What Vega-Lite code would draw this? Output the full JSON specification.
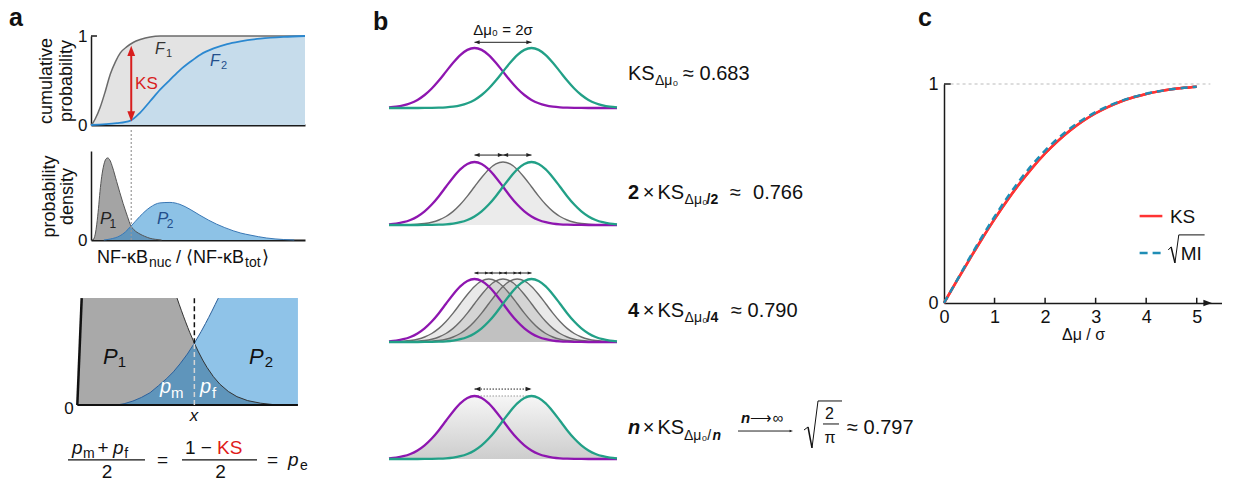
{
"$schema": "https://vega.github.io/schema/vega-lite/v6.json",
"background": "white",
"padding": {"left": 9, "top": 5, "right": 0, "bottom": 0},
"autosize": {"type": "pad"},
"config": {
  "font": "Liberation Sans",
  "view": {"stroke": null},
  "text": {"baseline": "alphabetic", "align": "left", "color": "#111"},
  "axis": {"grid": false, "labelFont": "Liberation Sans", "titleFont": "Liberation Sans", "labelColor": "#111", "titleColor": "#111", "domainColor": "#1a1a1a", "tickColor": "#1a1a1a"}
},
"datasets": {
  "F1": [{"x":0,"v":0},{"x":0.05,"v":0.01},{"x":0.2,"v":0.07},{"x":0.43,"v":0.2},{"x":0.67,"v":0.38},{"x":0.9,"v":0.57},{"x":1.14,"v":0.71},{"x":1.37,"v":0.81},{"x":1.68,"v":0.88},{"x":1.99,"v":0.93},{"x":2.3,"v":0.96},{"x":2.77,"v":0.99},{"x":3.24,"v":1},{"x":10,"v":1}],
  "F2": [{"x":0,"v":0},{"x":1.21,"v":0.02},{"x":1.84,"v":0.05},{"x":2.3,"v":0.14},{"x":2.77,"v":0.27},{"x":3.24,"v":0.4},{"x":3.7,"v":0.51},{"x":4.17,"v":0.62},{"x":4.64,"v":0.71},{"x":5.11,"v":0.79},{"x":5.73,"v":0.86},{"x":6.36,"v":0.91},{"x":6.98,"v":0.94},{"x":7.91,"v":0.97},{"x":9,"v":0.99},{"x":10,"v":1}],
  "P1": [{"x":0.1,"y":0},{"x":0.2,"y":6},{"x":0.27,"y":16},{"x":0.35,"y":32},{"x":0.42,"y":49},{"x":0.5,"y":64},{"x":0.6,"y":76},{"x":0.7,"y":82},{"x":0.78,"y":83},{"x":0.9,"y":80},{"x":1.0,"y":74},{"x":1.2,"y":59},{"x":1.5,"y":37},{"x":1.7,"y":24},{"x":1.87,"y":14},{"x":2.0,"y":10.5},{"x":2.29,"y":6},{"x":2.5,"y":3.8},{"x":2.76,"y":1.7},{"x":3.0,"y":0.7},{"x":3.3,"y":0}],
  "P2": [{"x":0.6,"y":0},{"x":0.9,"y":1},{"x":1.36,"y":4.3},{"x":1.6,"y":8},{"x":1.87,"y":14},{"x":2.29,"y":24},{"x":2.76,"y":33},{"x":3.22,"y":37.5},{"x":3.69,"y":38},{"x":4.16,"y":36},{"x":4.63,"y":31},{"x":5.09,"y":25},{"x":5.5,"y":20},{"x":5.87,"y":16},{"x":6.25,"y":12.5},{"x":6.65,"y":9.3},{"x":7.0,"y":7},{"x":7.43,"y":5},{"x":8.21,"y":2},{"x":8.99,"y":0.5},{"x":9.5,"y":0}],
  "OV": [{"x":0.6,"y":0},{"x":0.9,"y":1},{"x":1.36,"y":4.3},{"x":1.6,"y":8},{"x":1.87,"y":14},{"x":2.0,"y":10.5},{"x":2.29,"y":6},{"x":2.5,"y":3.8},{"x":2.76,"y":1.7},{"x":3.0,"y":0.7},{"x":3.3,"y":0}],
  "Z1": [{"x":-0.64,"y":0},{"x":-0.435,"y":10},{"x":4.02,"y":10},{"x":4.12,"y":9.42},{"x":4.22,"y":8.86},{"x":4.32,"y":8.31},{"x":4.42,"y":7.78},{"x":4.52,"y":7.26},{"x":4.62,"y":6.76},{"x":4.83,"y":5.78},{"x":5.02,"y":4.97},{"x":5.22,"y":4.2},{"x":5.42,"y":3.52},{"x":5.72,"y":2.65},{"x":6.02,"y":1.95},{"x":6.42,"y":1.26},{"x":6.82,"y":0.78},{"x":7.32,"y":0.41},{"x":7.92,"y":0.17},{"x":8.69,"y":0}],
  "Z2": [{"x":1.2,"y":0},{"x":1.55,"y":0.12},{"x":1.96,"y":0.37},{"x":2.35,"y":0.7},{"x":2.76,"y":1.15},{"x":3.15,"y":1.8},{"x":3.54,"y":2.48},{"x":3.85,"y":3.1},{"x":4.16,"y":3.85},{"x":4.5,"y":4.76},{"x":4.83,"y":5.78},{"x":5.15,"y":6.88},{"x":5.35,"y":7.62},{"x":5.5,"y":8.19},{"x":5.65,"y":8.78},{"x":5.8,"y":9.39},{"x":5.95,"y":10},{"x":9.67,"y":10}],
  "Z3": [{"x":1.2,"y":0},{"x":1.55,"y":0.12},{"x":1.96,"y":0.37},{"x":2.35,"y":0.7},{"x":2.76,"y":1.15},{"x":3.15,"y":1.8},{"x":3.54,"y":2.48},{"x":3.85,"y":3.1},{"x":4.16,"y":3.85},{"x":4.5,"y":4.76},{"x":4.83,"y":5.78},{"x":5.02,"y":4.97},{"x":5.22,"y":4.2},{"x":5.42,"y":3.52},{"x":5.72,"y":2.65},{"x":6.02,"y":1.95},{"x":6.42,"y":1.26},{"x":6.82,"y":0.78},{"x":7.32,"y":0.41},{"x":7.92,"y":0.17},{"x":8.69,"y":0}],
  "G": [
    {"x":-4,"p":0.0111,"t":0,"c":0.0003,"l":0.0022,"r":0,"e":0.0111},
    {"x":-3.75,"p":0.0228,"t":0,"c":0.0009,"l":0.0051,"r":0.0001,"e":0.0228},
    {"x":-3.5,"p":0.0439,"t":0,"c":0.0022,"l":0.0111,"r":0.0003,"e":0.0439},
    {"x":-3.25,"p":0.0796,"t":0,"c":0.0051,"l":0.0228,"r":0.0009,"e":0.0796},
    {"x":-3,"p":0.1353,"t":0.0003,"c":0.0111,"l":0.0439,"r":0.0022,"e":0.1353},
    {"x":-2.75,"p":0.2163,"t":0.0009,"c":0.0228,"l":0.0796,"r":0.0051,"e":0.2163},
    {"x":-2.5,"p":0.3247,"t":0.0022,"c":0.0439,"l":0.1353,"r":0.0111,"e":0.3247},
    {"x":-2.25,"p":0.4578,"t":0.0051,"c":0.0796,"l":0.2163,"r":0.0228,"e":0.4578},
    {"x":-2,"p":0.6065,"t":0.0111,"c":0.1353,"l":0.3247,"r":0.0439,"e":0.6065},
    {"x":-1.75,"p":0.7548,"t":0.0228,"c":0.2163,"l":0.4578,"r":0.0796,"e":0.7548},
    {"x":-1.5,"p":0.8825,"t":0.0439,"c":0.3247,"l":0.6065,"r":0.1353,"e":0.8825},
    {"x":-1.25,"p":0.9692,"t":0.0796,"c":0.4578,"l":0.7548,"r":0.2163,"e":0.9692},
    {"x":-1,"p":1,"t":0.1353,"c":0.6065,"l":0.8825,"r":0.3247,"e":1},
    {"x":-0.75,"p":0.9692,"t":0.2163,"c":0.7548,"l":0.9692,"r":0.4578,"e":1},
    {"x":-0.5,"p":0.8825,"t":0.3247,"c":0.8825,"l":1,"r":0.6065,"e":1},
    {"x":-0.25,"p":0.7548,"t":0.4578,"c":0.9692,"l":0.9692,"r":0.7548,"e":1},
    {"x":0,"p":0.6065,"t":0.6065,"c":1,"l":0.8825,"r":0.8825,"e":1},
    {"x":0.25,"p":0.4578,"t":0.7548,"c":0.9692,"l":0.7548,"r":0.9692,"e":1},
    {"x":0.5,"p":0.3247,"t":0.8825,"c":0.8825,"l":0.6065,"r":1,"e":1},
    {"x":0.75,"p":0.2163,"t":0.9692,"c":0.7548,"l":0.4578,"r":0.9692,"e":1},
    {"x":1,"p":0.1353,"t":1,"c":0.6065,"l":0.3247,"r":0.8825,"e":1},
    {"x":1.25,"p":0.0796,"t":0.9692,"c":0.4578,"l":0.2163,"r":0.7548,"e":0.9692},
    {"x":1.5,"p":0.0439,"t":0.8825,"c":0.3247,"l":0.1353,"r":0.6065,"e":0.8825},
    {"x":1.75,"p":0.0228,"t":0.7548,"c":0.2163,"l":0.0796,"r":0.4578,"e":0.7548},
    {"x":2,"p":0.0111,"t":0.6065,"c":0.1353,"l":0.0439,"r":0.3247,"e":0.6065},
    {"x":2.25,"p":0.0051,"t":0.4578,"c":0.0796,"l":0.0228,"r":0.2163,"e":0.4578},
    {"x":2.5,"p":0.0022,"t":0.3247,"c":0.0439,"l":0.0111,"r":0.1353,"e":0.3247},
    {"x":2.75,"p":0.0009,"t":0.2163,"c":0.0228,"l":0.0051,"r":0.0796,"e":0.2163},
    {"x":3,"p":0.0003,"t":0.1353,"c":0.0111,"l":0.0022,"r":0.0439,"e":0.1353},
    {"x":3.25,"p":0.0001,"t":0.0796,"c":0.0051,"l":0.0009,"r":0.0228,"e":0.0796},
    {"x":3.5,"p":0,"t":0.0439,"c":0.0022,"l":0.0003,"r":0.0111,"e":0.0439},
    {"x":3.75,"p":0,"t":0.0228,"c":0.0009,"l":0.0001,"r":0.0051,"e":0.0228},
    {"x":4,"p":0,"t":0.0111,"c":0.0003,"l":0,"r":0.0022,"e":0.0111}
  ],
  "AR": [{"row":1,"a":-1,"b":1},{"row":2,"a":-1,"b":0},{"row":2,"a":0,"b":1},{"row":3,"a":-1,"b":-0.5},{"row":3,"a":-0.5,"b":0},{"row":3,"a":0,"b":0.5},{"row":3,"a":0.5,"b":1},{"row":4,"a":-1,"b":1}],
  "CT": [{"t":1},{"t":2},{"t":3},{"t":4},{"t":5}],
  "CC": [{"d":0,"ks":0,"mi":0},{"d":0.25,"ks":0.0995,"mi":0.1014},{"d":0.5,"ks":0.1974,"mi":0.2034},{"d":0.75,"ks":0.2923,"mi":0.3013},{"d":1,"ks":0.3829,"mi":0.3939},{"d":1.25,"ks":0.468,"mi":0.481},{"d":1.5,"ks":0.5467,"mi":0.5607},{"d":1.75,"ks":0.6184,"mi":0.6324},{"d":2,"ks":0.6827,"mi":0.6957},{"d":2.25,"ks":0.7394,"mi":0.7504},{"d":2.5,"ks":0.7887,"mi":0.7977},{"d":2.75,"ks":0.8309,"mi":0.8379},{"d":3,"ks":0.8664,"mi":0.8714},{"d":3.25,"ks":0.8958,"mi":0.8993},{"d":3.5,"ks":0.9199,"mi":0.9222},{"d":3.75,"ks":0.9392,"mi":0.9407},{"d":4,"ks":0.9545,"mi":0.9555},{"d":4.25,"ks":0.9664,"mi":0.9671},{"d":4.5,"ks":0.9756,"mi":0.976},{"d":4.75,"ks":0.9824,"mi":0.9826},{"d":5,"ks":0.9876,"mi":0.9877}]
},
"spacing": 4,
"hconcat": [
 {"spacing": 64, "hconcat": [
  {"bounds": "flush", "spacing": 26, "vconcat": [
    {"width": 214, "height": 89, "layer": [
      {"data": {"name": "F1"}, "mark": {"type": "area", "color": "#e3e3e3", "interpolate": "monotone"},
       "encoding": {
        "x": {"field": "x", "type": "quantitative", "scale": {"domain": [0, 10]}, "axis": {"labels": false, "ticks": false, "title": null, "domainWidth": 2}},
        "y": {"field": "v", "type": "quantitative", "scale": {"domain": [0, 1]}, "axis": {"values": [0, 1], "format": "d", "labelFontSize": 17, "ticks": false, "labelPadding": 4, "domainWidth": 1.5, "title": null}}}},
      {"data": {"name": "F2"}, "mark": {"type": "area", "color": "#c6dceb", "interpolate": "monotone"},
       "encoding": {"x": {"field": "x", "type": "quantitative"}, "y": {"field": "v", "type": "quantitative"}}},
      {"data": {"name": "F1"}, "mark": {"type": "line", "color": "#6b6b6b", "strokeWidth": 1.5, "interpolate": "monotone"},
       "encoding": {"x": {"field": "x", "type": "quantitative"}, "y": {"field": "v", "type": "quantitative"}}},
      {"data": {"name": "F2"}, "mark": {"type": "line", "color": "#2b88d0", "strokeWidth": 1.8, "interpolate": "monotone"},
       "encoding": {"x": {"field": "x", "type": "quantitative"}, "y": {"field": "v", "type": "quantitative"}}},
      {"data": {"values": [{}]}, "mark": {"type": "rule", "color": "#1a1a1a", "strokeWidth": 1.5},
       "encoding": {"x": {"datum": 0}, "x2": {"datum": 0.28}, "y": {"datum": 1}}},
      {"data": {"values": [{}]}, "mark": {"type": "rule", "color": "#d81e1e", "strokeWidth": 2},
       "encoding": {"x": {"datum": 1.88}, "y": {"datum": 0.1}, "y2": {"datum": 0.83}}},
      {"data": {"values": [{}]}, "mark": {"type": "point", "shape": "M0,0L0.65,1.7L-0.65,1.7Z", "size": 144, "filled": true, "opacity": 1, "color": "#d81e1e"},
       "encoding": {"x": {"datum": 1.88}, "y": {"datum": 0.89}}},
      {"data": {"values": [{}]}, "mark": {"type": "point", "shape": "M0,0L0.65,-1.7L-0.65,-1.7Z", "size": 144, "filled": true, "opacity": 1, "color": "#d81e1e"},
       "encoding": {"x": {"datum": 1.88}, "y": {"datum": 0.04}}},
      {"data": {"values": [{}]}, "mark": {"type": "text", "text": "a", "fontSize": 25, "fontWeight": "bold"},
       "encoding": {"x": {"datum": -3.83}, "y": {"datum": 1.112}}},
      {"data": {"values": [{}]}, "mark": {"type": "text", "text": ["cumulative", "probability"], "fontSize": 18, "angle": 270, "align": "center", "baseline": "middle", "lineHeight": 20},
       "encoding": {"x": {"datum": -2.056}, "y": {"datum": 0.494}}},
      {"data": {"values": [{}]}, "mark": {"type": "text", "text": "F", "fontSize": 16, "fontStyle": "italic", "color": "#333"},
       "encoding": {"x": {"datum": 2.99}, "y": {"datum": 0.8}}},
      {"data": {"values": [{}]}, "mark": {"type": "text", "text": "1", "fontSize": 11, "color": "#333"},
       "encoding": {"x": {"datum": 3.5}, "y": {"datum": 0.764}}},
      {"data": {"values": [{}]}, "mark": {"type": "text", "text": "F", "fontSize": 16, "fontStyle": "italic", "color": "#234f8c"},
       "encoding": {"x": {"datum": 5.56}, "y": {"datum": 0.663}}},
      {"data": {"values": [{}]}, "mark": {"type": "text", "text": "2", "fontSize": 11, "color": "#234f8c"},
       "encoding": {"x": {"datum": 6.07}, "y": {"datum": 0.63}}},
      {"data": {"values": [{}]}, "mark": {"type": "text", "text": "KS", "fontSize": 17, "color": "#d81e1e"},
       "encoding": {"x": {"datum": 2.06}, "y": {"datum": 0.404}}}
    ]},
    {"width": 214, "height": 89, "layer": [
      {"data": {"name": "P1"}, "mark": {"type": "area", "color": "#a4a4a4", "interpolate": "monotone"},
       "encoding": {
        "x": {"field": "x", "type": "quantitative", "scale": {"domain": [0, 10]}, "axis": {"labels": false, "ticks": false, "title": null, "domainWidth": 2}},
        "y": {"field": "y", "type": "quantitative", "scale": {"domain": [0, 89]}, "axis": {"values": [0], "labelFontSize": 17, "ticks": false, "labelPadding": 4, "domainWidth": 1.5, "title": null}}}},
      {"data": {"name": "P2"}, "mark": {"type": "area", "color": "#8dc2e6", "interpolate": "monotone"},
       "encoding": {"x": {"field": "x", "type": "quantitative"}, "y": {"field": "y", "type": "quantitative"}}},
      {"data": {"name": "OV"}, "mark": {"type": "area", "color": "#6295bb", "interpolate": "monotone"},
       "encoding": {"x": {"field": "x", "type": "quantitative"}, "y": {"field": "y", "type": "quantitative"}}},
      {"data": {"name": "P1"}, "mark": {"type": "line", "color": "#555", "strokeWidth": 1, "interpolate": "monotone"},
       "encoding": {"x": {"field": "x", "type": "quantitative"}, "y": {"field": "y", "type": "quantitative"}}},
      {"data": {"name": "P2"}, "mark": {"type": "line", "color": "#3a78b5", "strokeWidth": 1, "interpolate": "monotone"},
       "encoding": {"x": {"field": "x", "type": "quantitative"}, "y": {"field": "y", "type": "quantitative"}}},
      {"data": {"values": [{}]}, "mark": {"type": "rule", "color": "#999", "strokeWidth": 1.2, "strokeDash": [2, 2]},
       "encoding": {"x": {"datum": 1.88}, "y": {"datum": 0}, "y2": {"datum": 112}}},
      {"data": {"values": [{}]}, "mark": {"type": "text", "text": ["probability", "density"], "fontSize": 18, "angle": 270, "align": "center", "baseline": "middle", "lineHeight": 18},
       "encoding": {"x": {"datum": -1.916}, "y": {"datum": 44}}},
      {"data": {"values": [{}]}, "mark": {"type": "text", "text": "P", "fontSize": 17, "fontStyle": "italic", "color": "#222"},
       "encoding": {"x": {"datum": 0.42}, "y": {"datum": 16}}},
      {"data": {"values": [{}]}, "mark": {"type": "text", "text": "1", "fontSize": 12, "color": "#222"},
       "encoding": {"x": {"datum": 0.86}, "y": {"datum": 12}}},
      {"data": {"values": [{}]}, "mark": {"type": "text", "text": "P", "fontSize": 17, "fontStyle": "italic", "color": "#234f8c"},
       "encoding": {"x": {"datum": 3.08}, "y": {"datum": 16}}},
      {"data": {"values": [{}]}, "mark": {"type": "text", "text": "2", "fontSize": 12, "color": "#234f8c"},
       "encoding": {"x": {"datum": 3.54}, "y": {"datum": 12}}},
      {"data": {"values": [{}]}, "mark": {"type": "text", "text": "NF-κB", "fontSize": 18},
       "encoding": {"x": {"datum": 0.28}, "y": {"datum": -23}}},
      {"data": {"values": [{}]}, "mark": {"type": "text", "text": "nuc", "fontSize": 14},
       "encoding": {"x": {"datum": 2.71}, "y": {"datum": -27}}},
      {"data": {"values": [{}]}, "mark": {"type": "text", "text": "/", "fontSize": 18},
       "encoding": {"x": {"datum": 3.97}, "y": {"datum": -23}}},
      {"data": {"values": [{}]}, "mark": {"type": "text", "text": "⟨NF-κB", "fontSize": 18},
       "encoding": {"x": {"datum": 4.44}, "y": {"datum": -23}}},
      {"data": {"values": [{}]}, "mark": {"type": "text", "text": "tot", "fontSize": 14},
       "encoding": {"x": {"datum": 7.2}, "y": {"datum": -27}}},
      {"data": {"values": [{}]}, "mark": {"type": "text", "text": "⟩", "fontSize": 18},
       "encoding": {"x": {"datum": 7.99}, "y": {"datum": -23}}}
    ]},
    {"width": 214, "height": 139, "layer": [
      {"data": {"name": "Z1"}, "mark": {"type": "area", "color": "#a9a9a9"},
       "encoding": {"x": {"field": "x", "type": "quantitative", "scale": {"domain": [0, 10]}, "axis": null}, "y": {"field": "y", "type": "quantitative", "scale": {"domain": [0, 12.752]}, "axis": null}}},
      {"data": {"name": "Z2"}, "mark": {"type": "area", "color": "#8fc3e8"},
       "encoding": {"x": {"field": "x", "type": "quantitative", "axis": null}, "y": {"field": "y", "type": "quantitative", "axis": null}}},
      {"data": {"name": "Z3"}, "mark": {"type": "area", "color": "#5f95bb"},
       "encoding": {"x": {"field": "x", "type": "quantitative", "axis": null}, "y": {"field": "y", "type": "quantitative", "axis": null}}},
      {"data": {"name": "Z1"}, "transform": [{"filter": "datum.x >= 4"}], "mark": {"type": "line", "color": "#333", "strokeWidth": 1},
       "encoding": {"x": {"field": "x", "type": "quantitative", "axis": null}, "y": {"field": "y", "type": "quantitative", "axis": null}}},
      {"data": {"name": "Z1"}, "transform": [{"filter": "datum.x < 0"}], "mark": {"type": "line", "color": "#111", "strokeWidth": 2.5},
       "encoding": {"x": {"field": "x", "type": "quantitative", "axis": null}, "y": {"field": "y", "type": "quantitative", "axis": null}}},
      {"data": {"name": "Z2"}, "transform": [{"filter": "datum.x <= 5.96"}], "mark": {"type": "line", "color": "#2d5f99", "strokeWidth": 1},
       "encoding": {"x": {"field": "x", "type": "quantitative", "axis": null}, "y": {"field": "y", "type": "quantitative", "axis": null}}},
      {"data": {"values": [{}]}, "mark": {"type": "rule", "color": "#111", "strokeWidth": 2},
       "encoding": {"x": {"datum": -0.64, "axis": null}, "x2": {"datum": 9.67}, "y": {"datum": 0, "axis": null}}},
      {"data": {"values": [{}]}, "mark": {"type": "rule", "color": "#111", "strokeWidth": 1.5, "strokeDash": [5, 3]},
       "encoding": {"x": {"datum": 4.83, "axis": null}, "y": {"datum": 5.78, "axis": null}, "y2": {"datum": 10}}},
      {"data": {"values": [{}]}, "mark": {"type": "rule", "color": "#d5d5d5", "strokeWidth": 1.5, "strokeDash": [5, 3]},
       "encoding": {"x": {"datum": 4.83, "axis": null}, "y": {"datum": 0, "axis": null}, "y2": {"datum": 5.78}}},
      {"data": {"values": [{}]}, "mark": {"type": "text", "text": "P", "fontSize": 22, "fontStyle": "italic"},
       "encoding": {"x": {"datum": 0.56, "axis": null}, "y": {"datum": 3.85, "axis": null}}},
      {"data": {"values": [{}]}, "mark": {"type": "text", "text": "1", "fontSize": 15},
       "encoding": {"x": {"datum": 1.25, "axis": null}, "y": {"datum": 3.58, "axis": null}}},
      {"data": {"values": [{}]}, "mark": {"type": "text", "text": "P", "fontSize": 22, "fontStyle": "italic"},
       "encoding": {"x": {"datum": 7.38, "axis": null}, "y": {"datum": 3.85, "axis": null}}},
      {"data": {"values": [{}]}, "mark": {"type": "text", "text": "2", "fontSize": 15},
       "encoding": {"x": {"datum": 8.12, "axis": null}, "y": {"datum": 3.58, "axis": null}}},
      {"data": {"values": [{}]}, "mark": {"type": "text", "text": "p", "fontSize": 20, "fontStyle": "italic", "color": "white"},
       "encoding": {"x": {"datum": 3.22, "axis": null}, "y": {"datum": 1.1, "axis": null}}},
      {"data": {"values": [{}]}, "mark": {"type": "text", "text": "m", "fontSize": 15, "color": "white"},
       "encoding": {"x": {"datum": 3.74, "axis": null}, "y": {"datum": 0.64, "axis": null}}},
      {"data": {"values": [{}]}, "mark": {"type": "text", "text": "p", "fontSize": 20, "fontStyle": "italic", "color": "white"},
       "encoding": {"x": {"datum": 5.09, "axis": null}, "y": {"datum": 1.1, "axis": null}}},
      {"data": {"values": [{}]}, "mark": {"type": "text", "text": "f", "fontSize": 15, "color": "white"},
       "encoding": {"x": {"datum": 5.65, "axis": null}, "y": {"datum": 0.64, "axis": null}}},
      {"data": {"values": [{}]}, "mark": {"type": "text", "text": "0", "fontSize": 17, "align": "center"},
       "encoding": {"x": {"datum": -1.03, "axis": null}, "y": {"datum": -0.83, "axis": null}}},
      {"data": {"values": [{}]}, "mark": {"type": "text", "text": "x", "fontSize": 17, "fontStyle": "italic", "align": "center"},
       "encoding": {"x": {"datum": 4.81, "axis": null}, "y": {"datum": -1.47, "axis": null}}},
      {"data": {"values": [{}]}, "mark": {"type": "text", "text": "p", "fontSize": 19, "fontStyle": "italic"},
       "encoding": {"x": {"datum": -0.888, "axis": null}, "y": {"datum": -4.587, "axis": null}}},
      {"data": {"values": [{}]}, "mark": {"type": "text", "text": "m", "fontSize": 14},
       "encoding": {"x": {"datum": -0.374, "axis": null}, "y": {"datum": -4.95, "axis": null}}},
      {"data": {"values": [{}]}, "mark": {"type": "text", "text": "+", "fontSize": 19},
       "encoding": {"x": {"datum": 0.3, "axis": null}, "y": {"datum": -4.587, "axis": null}}},
      {"data": {"values": [{}]}, "mark": {"type": "text", "text": "p", "fontSize": 19, "fontStyle": "italic"},
       "encoding": {"x": {"datum": 1.03, "axis": null}, "y": {"datum": -4.587, "axis": null}}},
      {"data": {"values": [{}]}, "mark": {"type": "text", "text": "f", "fontSize": 14},
       "encoding": {"x": {"datum": 1.55, "axis": null}, "y": {"datum": -4.95, "axis": null}}},
      {"data": {"values": [{}]}, "mark": {"type": "rule", "color": "#111", "strokeWidth": 1.3},
       "encoding": {"x": {"datum": -1.075, "axis": null}, "x2": {"datum": 2.523}, "y": {"datum": -5.138, "axis": null}}},
      {"data": {"values": [{}]}, "mark": {"type": "text", "text": "2", "fontSize": 19, "align": "center"},
       "encoding": {"x": {"datum": 0.748, "axis": null}, "y": {"datum": -6.789, "axis": null}}},
      {"data": {"values": [{}]}, "mark": {"type": "text", "text": "=", "fontSize": 19, "align": "center"},
       "encoding": {"x": {"datum": 3.341, "axis": null}, "y": {"datum": -5.69, "axis": null}}},
      {"data": {"values": [{}]}, "mark": {"type": "text", "text": "1 −", "fontSize": 19},
       "encoding": {"x": {"datum": 4.393, "axis": null}, "y": {"datum": -4.587, "axis": null}}},
      {"data": {"values": [{}]}, "mark": {"type": "text", "text": "KS", "fontSize": 19, "color": "#e01b1b"},
       "encoding": {"x": {"datum": 5.888, "axis": null}, "y": {"datum": -4.587, "axis": null}}},
      {"data": {"values": [{}]}, "mark": {"type": "rule", "color": "#111", "strokeWidth": 1.3},
       "encoding": {"x": {"datum": 4.252, "axis": null}, "x2": {"datum": 7.757}, "y": {"datum": -5.138, "axis": null}}},
      {"data": {"values": [{}]}, "mark": {"type": "text", "text": "2", "fontSize": 19, "align": "center"},
       "encoding": {"x": {"datum": 6.05, "axis": null}, "y": {"datum": -6.789, "axis": null}}},
      {"data": {"values": [{}]}, "mark": {"type": "text", "text": "=", "fontSize": 19, "align": "center"},
       "encoding": {"x": {"datum": 8.481, "axis": null}, "y": {"datum": -5.69, "axis": null}}},
      {"data": {"values": [{}]}, "mark": {"type": "text", "text": "p", "fontSize": 19, "fontStyle": "italic"},
       "encoding": {"x": {"datum": 9.206, "axis": null}, "y": {"datum": -5.69, "axis": null}}},
      {"data": {"values": [{}]}, "mark": {"type": "text", "text": "e", "fontSize": 14},
       "encoding": {"x": {"datum": 9.766, "axis": null}, "y": {"datum": -6.055, "axis": null}}}
    ]}
  ]},
  {"bounds": "flush", "spacing": 54, "vconcat": [
   {"width": 228, "height": 72, "layer": [
      {"data": {"name": "G"}, "mark": {"type": "line", "color": "#8e16b0", "strokeWidth": 2.3, "interpolate": "monotone"},
       "encoding": {"x": {"field": "x", "type": "quantitative", "scale": {"domain": [-4, 4]}, "axis": null}, "y": {"field": "p", "type": "quantitative", "scale": {"domain": [0, 1.142857]}, "axis": null}}},
      {"data": {"name": "G"}, "mark": {"type": "line", "color": "#22a087", "strokeWidth": 2.3, "interpolate": "monotone"},
       "encoding": {"x": {"field": "x", "type": "quantitative", "axis": null}, "y": {"field": "t", "type": "quantitative", "axis": null}}},
      {"data": {"name": "AR"}, "transform": [{"filter": "datum.row == 1"}], "mark": {"type": "rule", "color": "#222", "strokeWidth": 1},
       "encoding": {"x": {"field": "a", "type": "quantitative", "axis": null}, "x2": {"field": "b"}, "y": {"datum": 1.095, "axis": null}}},
      {"data": {"name": "AR"}, "transform": [{"filter": "datum.row == 1"}], "mark": {"type": "point", "shape": "M0,0L1.7,-0.65L1.7,0.65Z", "size": 36, "filled": true, "opacity": 1, "color": "#222"},
       "encoding": {"x": {"field": "a", "type": "quantitative", "axis": null}, "y": {"datum": 1.095, "axis": null}}},
      {"data": {"name": "AR"}, "transform": [{"filter": "datum.row == 1"}], "mark": {"type": "point", "shape": "M0,0L-1.7,-0.65L-1.7,0.65Z", "size": 36, "filled": true, "opacity": 1, "color": "#222"},
       "encoding": {"x": {"field": "b", "type": "quantitative", "axis": null}, "y": {"datum": 1.095, "axis": null}}},
      {"data": {"values": [{}]}, "mark": {"type": "text", "text": "b", "fontSize": 25, "fontWeight": "bold"},
       "encoding": {"x": {"datum": -4.561, "axis": null}, "y": {"datum": 1.302, "axis": null}}},
      {"data": {"values": [{}]}, "mark": {"type": "text", "text": "Δμ₀ = 2σ", "fontSize": 15, "align": "center"},
       "encoding": {"x": {"datum": 0, "axis": null}, "y": {"datum": 1.222, "axis": null}}},
      {"data": {"values": [{}]}, "mark": {"type": "text", "text": "KS", "fontSize": 20},
       "encoding": {"x": {"datum": 4.386, "axis": null}, "y": {"datum": 0.46, "axis": null}}},
      {"data": {"values": [{}]}, "mark": {"type": "text", "text": "Δμ₀", "fontSize": 14},
       "encoding": {"x": {"datum": 5.333, "axis": null}, "y": {"datum": 0.381, "axis": null}}},
      {"data": {"values": [{}]}, "mark": {"type": "text", "text": "≈ 0.683", "fontSize": 20},
       "encoding": {"x": {"datum": 6.316, "axis": null}, "y": {"datum": 0.46, "axis": null}}}
   ]},
   {"width": 228, "height": 63, "layer": [
      {"data": {"name": "G"}, "mark": {"type": "area", "color": "#ebebeb", "interpolate": "monotone"},
       "encoding": {"x": {"field": "x", "type": "quantitative", "scale": {"domain": [-4, 4]}, "axis": null}, "y": {"field": "c", "type": "quantitative", "scale": {"domain": [0, 1]}, "axis": null}}},
      {"data": {"name": "G"}, "mark": {"type": "line", "color": "#6b6b6b", "strokeWidth": 1.4, "interpolate": "monotone"},
       "encoding": {"x": {"field": "x", "type": "quantitative", "axis": null}, "y": {"field": "c", "type": "quantitative", "axis": null}}},
      {"data": {"name": "G"}, "mark": {"type": "line", "color": "#8e16b0", "strokeWidth": 2.3, "interpolate": "monotone"},
       "encoding": {"x": {"field": "x", "type": "quantitative", "axis": null}, "y": {"field": "p", "type": "quantitative", "axis": null}}},
      {"data": {"name": "G"}, "mark": {"type": "line", "color": "#22a087", "strokeWidth": 2.3, "interpolate": "monotone"},
       "encoding": {"x": {"field": "x", "type": "quantitative", "axis": null}, "y": {"field": "t", "type": "quantitative", "axis": null}}},
      {"data": {"name": "AR"}, "transform": [{"filter": "datum.row == 2"}], "mark": {"type": "rule", "color": "#222", "strokeWidth": 1},
       "encoding": {"x": {"field": "a", "type": "quantitative", "axis": null}, "x2": {"field": "b"}, "y": {"datum": 1.11, "axis": null}}},
      {"data": {"name": "AR"}, "transform": [{"filter": "datum.row == 2"}], "mark": {"type": "point", "shape": "M0,0L1.7,-0.65L1.7,0.65Z", "size": 36, "filled": true, "opacity": 1, "color": "#222"},
       "encoding": {"x": {"field": "a", "type": "quantitative", "axis": null}, "y": {"datum": 1.11, "axis": null}}},
      {"data": {"name": "AR"}, "transform": [{"filter": "datum.row == 2"}], "mark": {"type": "point", "shape": "M0,0L-1.7,-0.65L-1.7,0.65Z", "size": 36, "filled": true, "opacity": 1, "color": "#222"},
       "encoding": {"x": {"field": "b", "type": "quantitative", "axis": null}, "y": {"datum": 1.11, "axis": null}}},
      {"data": {"values": [{}]}, "mark": {"type": "text", "text": "2", "fontSize": 20, "fontWeight": "bold"},
       "encoding": {"x": {"datum": 4.386, "axis": null}, "y": {"datum": 0.413, "axis": null}}},
      {"data": {"values": [{}]}, "mark": {"type": "text", "text": "×", "fontSize": 20},
       "encoding": {"x": {"datum": 4.9, "axis": null}, "y": {"datum": 0.413, "axis": null}}},
      {"data": {"values": [{}]}, "mark": {"type": "text", "text": "KS", "fontSize": 20},
       "encoding": {"x": {"datum": 5.42, "axis": null}, "y": {"datum": 0.413, "axis": null}}},
      {"data": {"values": [{}]}, "mark": {"type": "text", "text": "Δμ₀", "fontSize": 14},
       "encoding": {"x": {"datum": 6.37, "axis": null}, "y": {"datum": 0.333, "axis": null}}},
      {"data": {"values": [{}]}, "mark": {"type": "text", "text": "/2", "fontSize": 14, "fontWeight": "bold"},
       "encoding": {"x": {"datum": 7.14, "axis": null}, "y": {"datum": 0.333, "axis": null}}},
      {"data": {"values": [{}]}, "mark": {"type": "text", "text": "≈", "fontSize": 20},
       "encoding": {"x": {"datum": 7.965, "axis": null}, "y": {"datum": 0.413, "axis": null}}},
      {"data": {"values": [{}]}, "mark": {"type": "text", "text": "0.766", "fontSize": 20},
       "encoding": {"x": {"datum": 8.772, "axis": null}, "y": {"datum": 0.413, "axis": null}}}
   ]},
   {"width": 228, "height": 63, "layer": [
      {"data": {"name": "G"}, "mark": {"type": "area", "color": "#000", "opacity": 0.085, "interpolate": "monotone"},
       "encoding": {"x": {"field": "x", "type": "quantitative", "scale": {"domain": [-4, 4]}, "axis": null}, "y": {"field": "l", "type": "quantitative", "scale": {"domain": [0, 1]}, "axis": null}}},
      {"data": {"name": "G"}, "mark": {"type": "area", "color": "#000", "opacity": 0.085, "interpolate": "monotone"},
       "encoding": {"x": {"field": "x", "type": "quantitative", "axis": null}, "y": {"field": "c", "type": "quantitative", "axis": null}}},
      {"data": {"name": "G"}, "mark": {"type": "area", "color": "#000", "opacity": 0.085, "interpolate": "monotone"},
       "encoding": {"x": {"field": "x", "type": "quantitative", "axis": null}, "y": {"field": "r", "type": "quantitative", "axis": null}}},
      {"data": {"name": "G"}, "mark": {"type": "line", "color": "#6b6b6b", "strokeWidth": 1.4, "interpolate": "monotone"},
       "encoding": {"x": {"field": "x", "type": "quantitative", "axis": null}, "y": {"field": "l", "type": "quantitative", "axis": null}}},
      {"data": {"name": "G"}, "mark": {"type": "line", "color": "#6b6b6b", "strokeWidth": 1.4, "interpolate": "monotone"},
       "encoding": {"x": {"field": "x", "type": "quantitative", "axis": null}, "y": {"field": "c", "type": "quantitative", "axis": null}}},
      {"data": {"name": "G"}, "mark": {"type": "line", "color": "#6b6b6b", "strokeWidth": 1.4, "interpolate": "monotone"},
       "encoding": {"x": {"field": "x", "type": "quantitative", "axis": null}, "y": {"field": "r", "type": "quantitative", "axis": null}}},
      {"data": {"name": "G"}, "mark": {"type": "line", "color": "#8e16b0", "strokeWidth": 2.3, "interpolate": "monotone"},
       "encoding": {"x": {"field": "x", "type": "quantitative", "axis": null}, "y": {"field": "p", "type": "quantitative", "axis": null}}},
      {"data": {"name": "G"}, "mark": {"type": "line", "color": "#22a087", "strokeWidth": 2.3, "interpolate": "monotone"},
       "encoding": {"x": {"field": "x", "type": "quantitative", "axis": null}, "y": {"field": "t", "type": "quantitative", "axis": null}}},
      {"data": {"name": "AR"}, "transform": [{"filter": "datum.row == 3"}], "mark": {"type": "rule", "color": "#222", "strokeWidth": 1},
       "encoding": {"x": {"field": "a", "type": "quantitative", "axis": null}, "x2": {"field": "b"}, "y": {"datum": 1.095, "axis": null}}},
      {"data": {"name": "AR"}, "transform": [{"filter": "datum.row == 3"}], "mark": {"type": "point", "shape": "M0,0L1.7,-0.65L1.7,0.65Z", "size": 20, "filled": true, "opacity": 1, "color": "#222"},
       "encoding": {"x": {"field": "a", "type": "quantitative", "axis": null}, "y": {"datum": 1.095, "axis": null}}},
      {"data": {"name": "AR"}, "transform": [{"filter": "datum.row == 3"}], "mark": {"type": "point", "shape": "M0,0L-1.7,-0.65L-1.7,0.65Z", "size": 20, "filled": true, "opacity": 1, "color": "#222"},
       "encoding": {"x": {"field": "b", "type": "quantitative", "axis": null}, "y": {"datum": 1.095, "axis": null}}},
      {"data": {"values": [{}]}, "mark": {"type": "text", "text": "4", "fontSize": 20, "fontWeight": "bold"},
       "encoding": {"x": {"datum": 4.386, "axis": null}, "y": {"datum": 0.397, "axis": null}}},
      {"data": {"values": [{}]}, "mark": {"type": "text", "text": "×", "fontSize": 20},
       "encoding": {"x": {"datum": 4.9, "axis": null}, "y": {"datum": 0.397, "axis": null}}},
      {"data": {"values": [{}]}, "mark": {"type": "text", "text": "KS", "fontSize": 20},
       "encoding": {"x": {"datum": 5.42, "axis": null}, "y": {"datum": 0.397, "axis": null}}},
      {"data": {"values": [{}]}, "mark": {"type": "text", "text": "Δμ₀", "fontSize": 14},
       "encoding": {"x": {"datum": 6.37, "axis": null}, "y": {"datum": 0.317, "axis": null}}},
      {"data": {"values": [{}]}, "mark": {"type": "text", "text": "/4", "fontSize": 14, "fontWeight": "bold"},
       "encoding": {"x": {"datum": 7.14, "axis": null}, "y": {"datum": 0.317, "axis": null}}},
      {"data": {"values": [{}]}, "mark": {"type": "text", "text": "≈ 0.790", "fontSize": 20},
       "encoding": {"x": {"datum": 8.0, "axis": null}, "y": {"datum": 0.397, "axis": null}}}
   ]},
   {"width": 228, "height": 63, "layer": [
      {"data": {"name": "G"}, "mark": {"type": "area", "interpolate": "monotone", "color": {"gradient": "linear", "x1": 0, "y1": 0, "x2": 0, "y2": 1, "stops": [{"offset": 0, "color": "#f6f6f6"}, {"offset": 1, "color": "#cdcdcd"}]}},
       "encoding": {"x": {"field": "x", "type": "quantitative", "scale": {"domain": [-4, 4]}, "axis": null}, "y": {"field": "e", "type": "quantitative", "scale": {"domain": [0, 1]}, "axis": null}}},
      {"data": {"values": [{}]}, "mark": {"type": "rule", "color": "#999", "strokeWidth": 1, "strokeDash": [1.5, 1.5]},
       "encoding": {"x": {"datum": -1, "axis": null}, "x2": {"datum": 1}, "y": {"datum": 1, "axis": null}}},
      {"data": {"name": "G"}, "mark": {"type": "line", "color": "#8e16b0", "strokeWidth": 2.3, "interpolate": "monotone"},
       "encoding": {"x": {"field": "x", "type": "quantitative", "axis": null}, "y": {"field": "p", "type": "quantitative", "axis": null}}},
      {"data": {"name": "G"}, "mark": {"type": "line", "color": "#22a087", "strokeWidth": 2.3, "interpolate": "monotone"},
       "encoding": {"x": {"field": "x", "type": "quantitative", "axis": null}, "y": {"field": "t", "type": "quantitative", "axis": null}}},
      {"data": {"name": "AR"}, "transform": [{"filter": "datum.row == 4"}], "mark": {"type": "rule", "color": "#222", "strokeWidth": 1, "strokeDash": [1.5, 1.5]},
       "encoding": {"x": {"field": "a", "type": "quantitative", "axis": null}, "x2": {"field": "b"}, "y": {"datum": 1.11, "axis": null}}},
      {"data": {"name": "AR"}, "transform": [{"filter": "datum.row == 4"}], "mark": {"type": "point", "shape": "M0,0L1.7,-0.65L1.7,0.65Z", "size": 49, "filled": true, "opacity": 1, "color": "#222"},
       "encoding": {"x": {"field": "a", "type": "quantitative", "axis": null}, "y": {"datum": 1.11, "axis": null}}},
      {"data": {"name": "AR"}, "transform": [{"filter": "datum.row == 4"}], "mark": {"type": "point", "shape": "M0,0L-1.7,-0.65L-1.7,0.65Z", "size": 49, "filled": true, "opacity": 1, "color": "#222"},
       "encoding": {"x": {"field": "b", "type": "quantitative", "axis": null}, "y": {"datum": 1.11, "axis": null}}},
      {"data": {"values": [{}]}, "mark": {"type": "text", "text": "n", "fontSize": 20, "fontWeight": "bold", "fontStyle": "italic"},
       "encoding": {"x": {"datum": 4.386, "axis": null}, "y": {"datum": 0.397, "axis": null}}},
      {"data": {"values": [{}]}, "mark": {"type": "text", "text": "×", "fontSize": 20},
       "encoding": {"x": {"datum": 4.9, "axis": null}, "y": {"datum": 0.397, "axis": null}}},
      {"data": {"values": [{}]}, "mark": {"type": "text", "text": "KS", "fontSize": 20},
       "encoding": {"x": {"datum": 5.42, "axis": null}, "y": {"datum": 0.397, "axis": null}}},
      {"data": {"values": [{}]}, "mark": {"type": "text", "text": "Δμ₀/", "fontSize": 14},
       "encoding": {"x": {"datum": 6.35, "axis": null}, "y": {"datum": 0.302, "axis": null}}},
      {"data": {"values": [{}]}, "mark": {"type": "text", "text": "n", "fontSize": 14, "fontWeight": "bold", "fontStyle": "italic"},
       "encoding": {"x": {"datum": 7.35, "axis": null}, "y": {"datum": 0.302, "axis": null}}},
      {"data": {"values": [{}]}, "mark": {"type": "rule", "color": "#222", "strokeWidth": 1},
       "encoding": {"x": {"datum": 8.246, "axis": null}, "x2": {"datum": 10.1}, "y": {"datum": 0.444, "axis": null}}},
      {"data": {"values": [{}]}, "mark": {"type": "point", "shape": "M0,0L-1.7,-0.65L-1.7,0.65Z", "size": 16, "filled": true, "opacity": 1, "color": "#222"},
       "encoding": {"x": {"datum": 10.175, "axis": null}, "y": {"datum": 0.444, "axis": null}}},
      {"data": {"values": [{}]}, "mark": {"type": "text", "text": "n", "fontSize": 15, "fontWeight": "bold", "fontStyle": "italic"},
       "encoding": {"x": {"datum": 8.351, "axis": null}, "y": {"datum": 0.571, "axis": null}}},
      {"data": {"values": [{}]}, "mark": {"type": "text", "text": "⟶∞", "fontSize": 15},
       "encoding": {"x": {"datum": 8.68, "axis": null}, "y": {"datum": 0.571, "axis": null}}},
      {"data": {"values": [{}]}, "mark": {"type": "rule", "color": "#111", "strokeWidth": 1},
       "encoding": {"x": {"datum": 10.561, "axis": null}, "y": {"datum": 0.46, "axis": null}, "x2": {"datum": 10.702}, "y2": {"datum": 0.508}}},
      {"data": {"values": [{}]}, "mark": {"type": "rule", "color": "#111", "strokeWidth": 1.5},
       "encoding": {"x": {"datum": 10.702, "axis": null}, "y": {"datum": 0.508, "axis": null}, "x2": {"datum": 10.842}, "y2": {"datum": 0.175}}},
      {"data": {"values": [{}]}, "mark": {"type": "rule", "color": "#111", "strokeWidth": 1},
       "encoding": {"x": {"datum": 10.842, "axis": null}, "y": {"datum": 0.175, "axis": null}, "x2": {"datum": 11.053}, "y2": {"datum": 0.921}}},
      {"data": {"values": [{}]}, "mark": {"type": "rule", "color": "#111", "strokeWidth": 1},
       "encoding": {"x": {"datum": 11.053, "axis": null}, "y": {"datum": 0.921, "axis": null}, "x2": {"datum": 11.895}, "y2": {"datum": 0.921}}},
      {"data": {"values": [{}]}, "mark": {"type": "text", "text": "2", "fontSize": 16, "align": "center"},
       "encoding": {"x": {"datum": 11.456, "axis": null}, "y": {"datum": 0.635, "axis": null}}},
      {"data": {"values": [{}]}, "mark": {"type": "rule", "color": "#111", "strokeWidth": 1},
       "encoding": {"x": {"datum": 11.228, "axis": null}, "x2": {"datum": 11.789}, "y": {"datum": 0.556, "axis": null}}},
      {"data": {"values": [{}]}, "mark": {"type": "text", "text": "π", "fontSize": 16, "align": "center"},
       "encoding": {"x": {"datum": 11.474, "axis": null}, "y": {"datum": 0.254, "axis": null}}},
      {"data": {"values": [{}]}, "mark": {"type": "text", "text": "≈ 0.797", "fontSize": 20},
       "encoding": {"x": {"datum": 12.07, "axis": null}, "y": {"datum": 0.397, "axis": null}}}
   ]}
  ]}
 ]},
 {"bounds": "flush", "spacing": 47, "vconcat": [
  {"width": 278, "height": 1, "data": {"values": [{}]}, "mark": {"type": "text", "text": ""}, "encoding": {}},
  {"width": 278, "height": 219, "layer": [
    {"data": {"name": "CC"}, "mark": {"type": "line", "color": "#ff3333", "strokeWidth": 2.5, "interpolate": "monotone"},
     "encoding": {
      "x": {"field": "d", "type": "quantitative", "scale": {"domain": [0, 5.27]}, "axis": {"values": [0, 1, 2, 3, 4, 5], "format": "d", "labelFontSize": 18, "ticks": false, "labelPadding": 5, "domainWidth": 1.5, "labelFlush": false, "title": "Δμ / σ", "titleFontSize": 16, "titleFontWeight": "normal", "titlePadding": 0}},
      "y": {"field": "ks", "type": "quantitative", "scale": {"domain": [0, 1]}, "axis": {"values": [0, 1], "format": "d", "labelFontSize": 18, "ticks": false, "labelPadding": 6, "domainWidth": 1.5, "title": null}}}},
    {"data": {"values": [{}]}, "mark": {"type": "rule", "color": "#bbb", "strokeWidth": 1.2, "strokeDash": [3, 3]},
     "encoding": {"x": {"datum": 0.13}, "x2": {"datum": 5.27}, "y": {"datum": 1}}},
    {"data": {"name": "CC"}, "mark": {"type": "line", "color": "#ff3333", "strokeWidth": 2.5, "interpolate": "monotone"},
     "encoding": {"x": {"field": "d", "type": "quantitative"}, "y": {"field": "ks", "type": "quantitative"}}},
    {"data": {"name": "CC"}, "mark": {"type": "line", "color": "#1f8db5", "strokeWidth": 2.5, "strokeDash": [7, 5], "interpolate": "monotone"},
     "encoding": {"x": {"field": "d", "type": "quantitative"}, "y": {"field": "mi", "type": "quantitative"}}},
    {"data": {"name": "CT"}, "mark": {"type": "rule", "color": "#1a1a1a", "strokeWidth": 1.5},
     "encoding": {"x": {"field": "t", "type": "quantitative"}, "y": {"datum": 0}, "y2": {"datum": 0.024}}},
    {"data": {"values": [{}]}, "mark": {"type": "rule", "color": "#1a1a1a", "strokeWidth": 1.5},
     "encoding": {"x": {"datum": 0}, "x2": {"datum": 0.133}, "y": {"datum": 1}}},
    {"data": {"values": [{}]}, "mark": {"type": "point", "shape": "M0,0L-1.7,-0.65L-1.7,0.65Z", "size": 100, "filled": true, "opacity": 1, "color": "#1a1a1a"},
     "encoding": {"x": {"datum": 5.3}, "y": {"datum": 0}}},
    {"data": {"values": [{}]}, "mark": {"type": "rule", "color": "#ff3333", "strokeWidth": 2.5},
     "encoding": {"x": {"datum": 3.87}, "x2": {"datum": 4.32}, "y": {"datum": 0.397}}},
    {"data": {"values": [{}]}, "mark": {"type": "rule", "color": "#1f8db5", "strokeWidth": 2.5, "strokeDash": [8, 5]},
     "encoding": {"x": {"datum": 3.87}, "x2": {"datum": 4.32}, "y": {"datum": 0.228}}},
    {"data": {"values": [{}]}, "mark": {"type": "text", "text": "KS", "fontSize": 19},
     "encoding": {"x": {"datum": 4.47}, "y": {"datum": 0.365}}},
    {"data": {"values": [{}]}, "mark": {"type": "rule", "color": "#111", "strokeWidth": 1},
     "encoding": {"x": {"datum": 4.436}, "y": {"datum": 0.242}, "x2": {"datum": 4.493}, "y2": {"datum": 0.256}}},
    {"data": {"values": [{}]}, "mark": {"type": "rule", "color": "#111", "strokeWidth": 1.5},
     "encoding": {"x": {"datum": 4.493}, "y": {"datum": 0.256}, "x2": {"datum": 4.569}, "y2": {"datum": 0.183}}},
    {"data": {"values": [{}]}, "mark": {"type": "rule", "color": "#111", "strokeWidth": 1},
     "encoding": {"x": {"datum": 4.569}, "y": {"datum": 0.183}, "x2": {"datum": 4.645}, "y2": {"datum": 0.311}}},
    {"data": {"values": [{}]}, "mark": {"type": "rule", "color": "#111", "strokeWidth": 1},
     "encoding": {"x": {"datum": 4.645}, "y": {"datum": 0.311}, "x2": {"datum": 5.156}, "y2": {"datum": 0.311}}},
    {"data": {"values": [{}]}, "mark": {"type": "text", "text": "MI", "fontSize": 19},
     "encoding": {"x": {"datum": 4.682}, "y": {"datum": 0.196}}},
    {"data": {"values": [{}]}, "mark": {"type": "text", "text": "c", "fontSize": 25, "fontWeight": "bold"},
     "encoding": {"x": {"datum": -0.512}, "y": {"datum": 1.265}}}
  ]}
 ]}
]
}
